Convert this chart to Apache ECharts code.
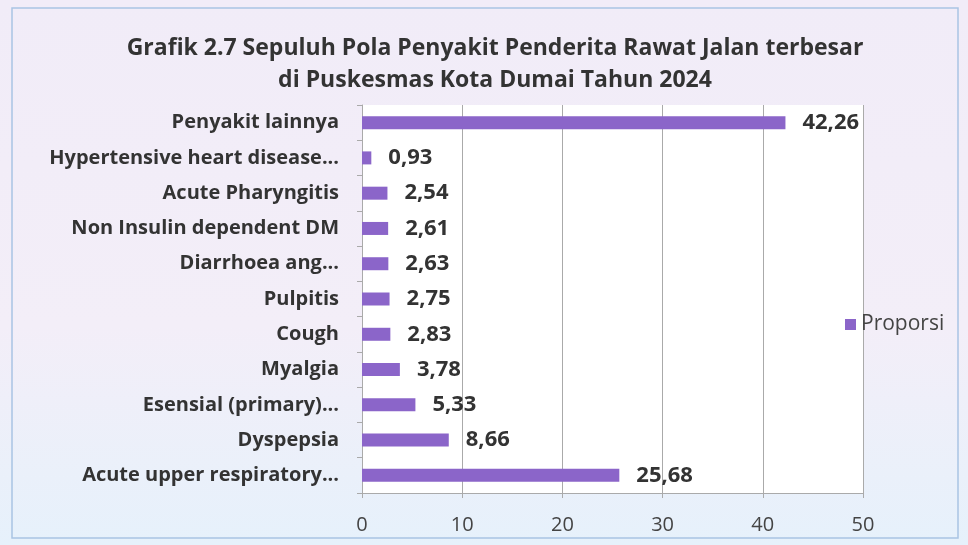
<!DOCTYPE html>
<html>
<head>
<meta charset="utf-8">
<script src="https://cdn.jsdelivr.net/npm/echarts@6/dist/echarts.min.js"></script>
<style>
html, body { margin: 0; padding: 0; }
#chart { width: 968px; height: 545px; }
</style>
</head>
<body>
<div id="chart"></div>
<script>
// categories top to bottom
var categories = [
    "Penyakit lainnya",
    "Hypertensive heart disease...",
    "Acute Pharyngitis",
    "Non Insulin dependent DM",
    "Diarrhoea ang...",
    "Pulpitis",
    "Cough",
    "Myalgia",
    "Esensial (primary)...",
    "Dyspepsia",
    "Acute upper respiratory..."
];
var proporsi = [42.26, 0.93, 2.54, 2.61, 2.63, 2.75, 2.83, 3.78, 5.33, 8.66, 25.68];
var xTicks = [0, 10, 20, 30, 40, 50];

var font = "'Open Sans', 'Noto Sans', sans-serif";
var chart = echarts.init(document.getElementById("chart"));
chart.setOption({
    backgroundColor: {
        type: "linear", x: 0, y: 0, x2: 0, y2: 1,
        colorStops: [
            { offset: 0, color: "#f1ecf8" },
            { offset: 0.6, color: "#f3eef8" },
            { offset: 1, color: "#e6f1fb" }
        ]
    },
    textStyle: { fontFamily: font },
    title: {
        text: "Grafik 2.7 Sepuluh Pola Penyakit Penderita Rawat Jalan terbesar\ndi Puskesmas Kota Dumai Tahun 2024",
        left: 490,
        textAlign: "center",
        top: 27,
        textStyle: {
            fontFamily: font,
            fontSize: 23,
            fontWeight: "bold",
            color: "#333",
            lineHeight: 32
        }
    },
    graphic: [{
        type: "rect",
        shape: { x: 12, y: 8, width: 946, height: 530 },
        style: { fill: "none", stroke: "#a9c4e4", lineWidth: 1.5 },
        silent: true
    }],
    legend: {
        data: ["Proporsi"],
        left: 840,
        top: 309,
        orient: "vertical",
        itemWidth: 11,
        itemHeight: 11,
        itemGap: 6,
        icon: "rect",
        textStyle: { fontFamily: font, fontSize: 21, color: "#444" }
    },
    grid: {
        left: 362,
        right: 105,
        top: 105,
        bottom: 52,
        show: true,
        backgroundColor: "#ffffff",
        borderWidth: 0
    },
    xAxis: {
        type: "value",
        min: 0,
        max: 50,
        interval: 10,
        axisLine: { show: true, lineStyle: { color: "#aaa" } },
        axisTick: { show: true, length: 5, lineStyle: { color: "#aaa" } },
        axisLabel: {
            fontFamily: font,
            fontSize: 20,
            color: "#444",
            margin: 22,
            formatter: function (v) { return xTicks.indexOf(v) >= 0 ? String(v) : ""; }
        },
        splitLine: { show: true, lineStyle: { color: "#aaa", width: 1 } }
    },
    yAxis: {
        type: "category",
        data: categories,
        inverse: true,
        axisLine: { show: true, lineStyle: { color: "#aaa" } },
        axisTick: { show: true, length: 5, lineStyle: { color: "#aaa" } },
        axisLabel: {
            fontFamily: font,
            fontSize: 20,
            fontWeight: "bold",
            color: "#333",
            margin: 23
        }
    },
    series: [{
        name: "Proporsi",
        type: "bar",
        data: proporsi,
        barWidth: 13,
        itemStyle: { color: "#8b65c9" },
        label: {
            show: true,
            position: "right",
            distance: 17,
            fontFamily: font,
            fontSize: 22,
            fontWeight: "bold",
            color: "#333",
            formatter: function (p) { return p.value.toFixed(2).replace(".", ","); }
        }
    }]
});
</script>
</body>
</html>
